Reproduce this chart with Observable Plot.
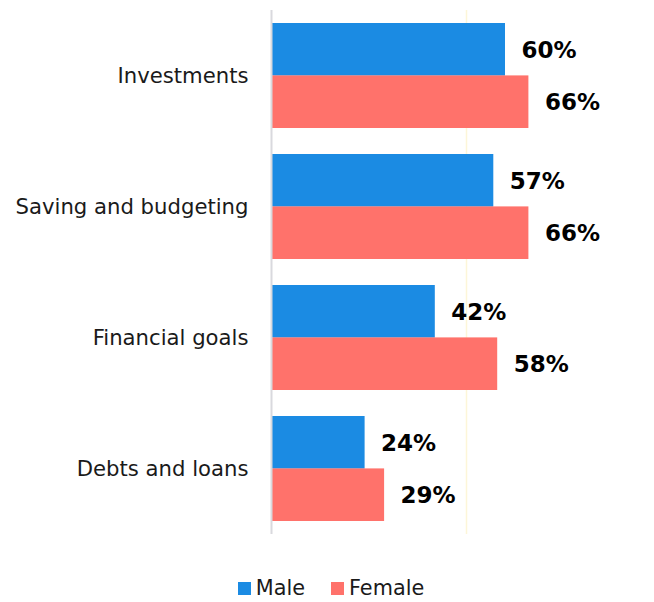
<!DOCTYPE html>
<html>
<head>
<meta charset="utf-8">
<script src="https://cdn.jsdelivr.net/npm/d3@7"></script>
<script src="https://cdn.jsdelivr.net/npm/@observablehq/plot@0.6"></script>
<style>
  body { margin: 0; background: #fff; font-family: "DejaVu Sans", sans-serif; }
  #chart svg { display: block; }
  .legend { display: flex; justify-content: center; align-items: center; height: 36px; font-size: 20.8px; color: #1a1a1a; gap: 26px; padding-left: 8px; }
  .legend span.sw { display: inline-block; width: 13px; height: 13px; margin-right: 5px; }
  .legend .item { display: flex; align-items: center; }
</style>
</head>
<body>
<div id="chart"></div>
<div class="legend" id="legend"></div>
<script>
const categories = ["Investments", "Saving and budgeting", "Financial goals", "Debts and loans"];
const series = ["Male", "Female"];
const maleValues = [60, 57, 42, 24];
const femaleValues = [66, 66, 58, 29];
const colors = ["#1b8be3", "#ff726b"];

const male = categories.map((c, i) => ({category: c, value: maleValues[i]}));
const female = categories.map((c, i) => ({category: c, value: femaleValues[i]}));

const W = 654, H = 570;
const chart = Plot.plot({
  width: W,
  height: H,
  marginLeft: 271,
  marginRight: 0,
  marginTop: 10,
  marginBottom: 36,
  style: {fontFamily: "DejaVu Sans, sans-serif", background: "#fff"},
  x: {domain: [0, 100], range: [271, 661], axis: null},
  y: {domain: categories, paddingInner: 0.2, paddingOuter: 0.1, label: null},
  marks: [
    Plot.ruleX([50], {stroke: "#fdf6d8", strokeWidth: 1.5}),
    Plot.barX(male, {x: "value", y: "category", fill: colors[0], insetBottom: 52.4}),
    Plot.barX(female, {x: "value", y: "category", fill: colors[1], insetTop: 52.4}),
    Plot.ruleX([0], {stroke: "#d9d9de", strokeWidth: 2}),
    Plot.text(male, {x: "value", y: "category", text: d => d.value + "%", dx: 16, dy: -25, textAnchor: "start", fontSize: 23, fontWeight: "bold", fill: "#000"}),
    Plot.text(female, {x: "value", y: "category", text: d => d.value + "%", dx: 16, dy: 27, textAnchor: "start", fontSize: 23, fontWeight: "bold", fill: "#000"}),
    Plot.axisY({tickSize: 0, tickPadding: 23, fontSize: 21.2, fill: "#1a1a1a", label: null})
  ]
});
document.getElementById("chart").appendChild(chart);

const legend = document.getElementById("legend");
series.forEach((s, i) => {
  const item = document.createElement("div");
  item.className = "item";
  const sw = document.createElement("span");
  sw.className = "sw";
  sw.style.background = colors[i];
  item.appendChild(sw);
  item.appendChild(document.createTextNode(s));
  legend.appendChild(item);
});
</script>
</body>
</html>
